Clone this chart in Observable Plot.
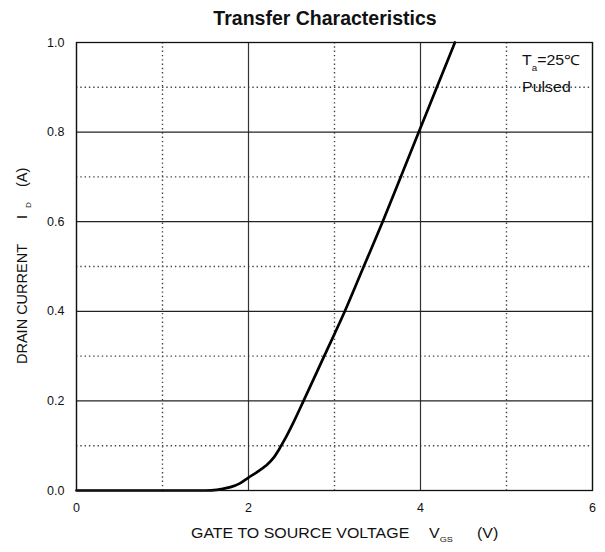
<!DOCTYPE html>
<html><head><meta charset="utf-8">
<script src="https://cdn.jsdelivr.net/npm/d3@7"></script>
<script src="https://cdn.jsdelivr.net/npm/@observablehq/plot@0.6"></script>
<style>
body{margin:0;background:#fff;font-family:"Liberation Sans",Arial,sans-serif;}
</style></head><body>
<div id="chart"></div>
<script>
const vgs = [0, 1.5, 1.63, 1.7, 1.79, 1.9, 2.0, 2.1, 2.2, 2.3, 2.35, 2.41, 2.53, 2.64, 2.88, 3.12, 3.34, 3.56, 3.77, 3.98, 4.19, 4.40];
const idA = [0, 0, 0.0015, 0.004, 0.0075, 0.016, 0.029, 0.041, 0.055, 0.075, 0.09, 0.11, 0.155, 0.2, 0.3, 0.4, 0.5, 0.6, 0.7, 0.8, 0.9, 1.0];
const xMajor = [0, 2, 4, 6];
const xMinor = [1, 3, 5];
const yMajor = [0, 0.2, 0.4, 0.6, 0.8, 1.0];
const yMinor = [0.1, 0.3, 0.5, 0.7, 0.9];
const curve = vgs.map((v, i) => ({v, i: idA[i]}));

const chart = Plot.plot({
  width: 605, height: 552,
  marginTop: 42, marginBottom: 62, marginLeft: 76, marginRight: 13,
  style: {fontFamily: '"Liberation Sans", Arial, sans-serif', fontSize: "12.5px", color: "#111", background: "#fff"},
  x: {domain: [0, 6]},
  y: {domain: [0, 1]},
  marks: [
    Plot.ruleX(xMinor, {stroke: "#444", strokeWidth: 1.4, strokeDasharray: "1.4,2.9"}),
    Plot.ruleY(yMinor, {stroke: "#444", strokeWidth: 1.4, strokeDasharray: "1.4,2.9"}),
    Plot.ruleX(xMajor, {stroke: "#333", strokeWidth: 1.2}),
    Plot.ruleY(yMajor, {stroke: "#222", strokeWidth: 1.2}),
    Plot.axisX(xMajor, {tickSize: 0, tickPadding: 13, label: null, tickFormat: d => String(d), fontSize: 12.5}),
    Plot.axisY(yMajor, {tickSize: 0, tickPadding: 12, label: null, tickFormat: d3.format(".1f"), fontSize: 12.5}),
    Plot.line(curve, {x: "v", y: "i", stroke: "#000", strokeWidth: 2.7, curve: "monotone-x"}),
    Plot.frame({stroke: "#111", strokeWidth: 1.3})
  ]
});
document.getElementById("chart").appendChild(chart);
const svg = d3.select(chart);
const ff = '"Liberation Sans", Arial, sans-serif';
const SX = 1.14;
function htxt(x, y, size) {
  return svg.append("text").attr("transform", `translate(${x},${y}) scale(${SX},1)`)
    .attr("font-size", size).attr("fill", "#111").attr("font-family", ff).attr("text-anchor", "start");
}
// title
svg.append("text").attr("x", 325).attr("y", 25).attr("text-anchor", "middle")
  .attr("font-size", 19.5).attr("font-weight", "bold").attr("fill", "#111").attr("font-family", ff)
  .text("Transfer Characteristics");
// x label
const xl = htxt(191, 538, 14);
xl.append("tspan").attr("x", 0).text("GATE TO SOURCE VOLTAGE");
xl.append("tspan").attr("x", (429 - 191) / SX).text("V");
xl.append("tspan").attr("font-size", 8).attr("dy", "4").text("GS");
xl.append("tspan").attr("x", (477 - 191) / SX).attr("dy", "-4").text("(V)");
// y label
const yl = svg.append("text").attr("transform", "translate(27,364) rotate(-90)").attr("font-size", 14.5)
  .attr("fill", "#111").attr("font-family", ff).attr("text-anchor", "start");
yl.append("tspan").attr("x", 0).text("DRAIN CURRENT");
yl.append("tspan").attr("x", 145).text("I");
yl.append("tspan").attr("font-size", 8).attr("dy", "4").attr("x", 156).text("D");
yl.append("tspan").attr("x", 177).attr("dy", "-4").text("(A)");
// annotation
const a1 = htxt(522, 65, 14);
a1.append("tspan").text("T");
a1.append("tspan").attr("font-size", 8.5).attr("dy", "6").text("a");
a1.append("tspan").attr("dy", "-6").text("=25℃");
htxt(522, 92, 14).text("Pulsed");
</script>
</body></html>
